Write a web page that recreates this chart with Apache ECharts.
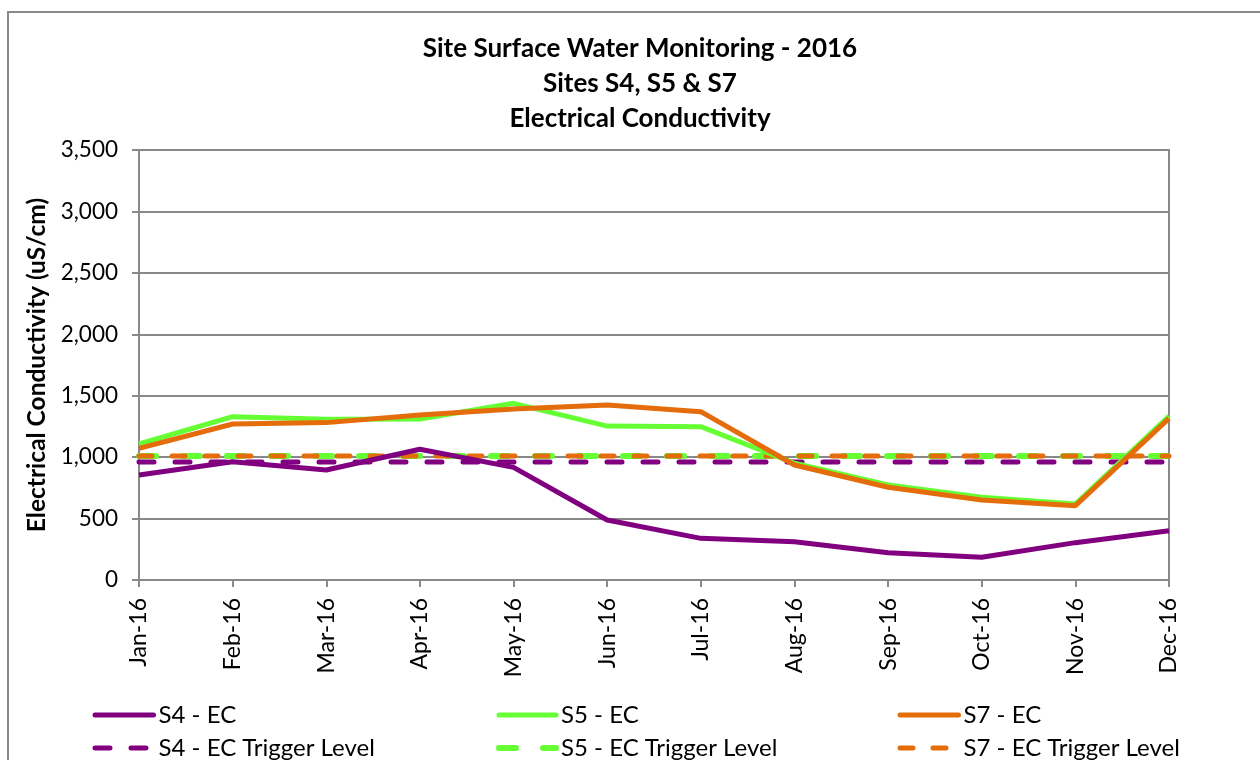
<!DOCTYPE html>
<html>
<head>
<meta charset="utf-8">
<title>Site Surface Water Monitoring - 2016</title>
<script src="https://cdn.jsdelivr.net/npm/echarts@6/dist/echarts.min.js"></script>
<style>
  html, body { margin: 0; padding: 0; background: #ffffff; }
  #chart { width: 1260px; height: 760px; }
</style>
</head>
<body>
<div id="chart"></div>
<script>
// Monthly sampling dates
const months = ['Jan-16', 'Feb-16', 'Mar-16', 'Apr-16', 'May-16', 'Jun-16',
                'Jul-16', 'Aug-16', 'Sep-16', 'Oct-16', 'Nov-16', 'Dec-16'];

// Electrical conductivity readings (uS/cm)
const s4EC = [855, 963, 895, 1064, 917, 488, 339, 312, 222, 185, 304, 401];
const s5EC = [1107, 1329, 1308, 1310, 1438, 1253, 1248, 950, 773, 673, 619, 1335];
const s7EC = [1072, 1270, 1281, 1343, 1392, 1424, 1370, 936, 755, 651, 605, 1316];

// Trigger levels (uS/cm)
const s4Trigger = 960;
const s5Trigger = 1010;
const s7Trigger = 1010;

const yMin = 0, yMax = 3500, yStep = 500;

const titleLines = ['Site Surface Water Monitoring - 2016', 'Sites S4, S5 & S7', 'Electrical Conductivity'];
const yAxisTitle = 'Electrical Conductivity (uS/cm)';

const PURPLE = '#800080';
const GREEN = '#66FF33';
const ORANGE = '#E46C0A';
const GREY = '#898989';
const FONT = 'Lato';

// dash patterns for the trigger-level lines
const DASH_S4 = [15, 21];
const DASH_S5 = [17, 27];
const DASH_S7 = [13, 20];

const flat = v => months.map(() => v);

const chart = echarts.init(document.getElementById('chart'), null, { renderer: 'canvas' });

const legendText = { fontFamily: FONT, fontSize: 24, color: '#000', lineHeight: 22 };
// one legend column per site: solid reading line above, dashed trigger line below
function legendCol(left, iconWidth, solidName, dashName, color, width, dash) {
  return {
    orient: 'vertical', left: left, top: 703, height: 80, itemWidth: iconWidth, itemHeight: 14,
    itemGap: 9, padding: 0, textStyle: legendText, selectedMode: false,
    itemStyle: { opacity: 0 },
    data: [
      { name: solidName, itemStyle: { opacity: 0 },
        lineStyle: { color: color, width: 5, type: 'solid', cap: 'round' } },
      { name: dashName, itemStyle: { opacity: 0 },
        lineStyle: { color: color, width: width, type: dash, cap: 'round' } }
    ]
  };
}

chart.setOption({
  animation: false,
  backgroundColor: '#ffffff',
  title: {
    text: titleLines.join('\n'),
    left: 635, top: 26, textAlign: 'center',
    textStyle: { fontFamily: FONT, fontSize: 26, fontWeight: 'bold', color: '#000', lineHeight: 35 }
  },
  graphic: [{
    type: 'rect', silent: true,
    shape: { x: 8, y: 12, width: 1300, height: 800 },
    style: { fill: 'none', stroke: GREY, lineWidth: 2 }
  }],
  legend: [
    legendCol(92.5, 58.5, 'S4 - EC', 'S4 - EC Trigger Level', PURPLE, 5, DASH_S4),
    legendCol(496, 57, 'S5 - EC', 'S5 - EC Trigger Level', GREEN, 6, DASH_S5),
    legendCol(897.5, 58.5, 'S7 - EC', 'S7 - EC Trigger Level', ORANGE, 5, DASH_S7)
  ],
  grid: { left: 139, right: 91, top: 150, bottom: 180, show: true, borderColor: GREY, borderWidth: 2 },
  xAxis: {
    type: 'category', data: months, boundaryGap: false,
    axisLine: { lineStyle: { color: GREY, width: 2 } },
    axisTick: { show: true, length: 7, alignWithLabel: true, lineStyle: { color: GREY, width: 2 } },
    axisLabel: { rotate: 90, margin: 18, interval: 0, fontFamily: FONT, fontSize: 23, color: '#000' },
    splitLine: { show: false }
  },
  yAxis: {
    type: 'value', min: yMin, max: yMax, interval: yStep,
    name: yAxisTitle, nameLocation: 'middle', nameGap: 82, nameRotate: 90,
    nameTextStyle: { fontFamily: FONT, fontSize: 24.5, fontWeight: 'bold', color: '#000' },
    axisLine: { show: true, lineStyle: { color: GREY, width: 2 } },
    axisTick: { show: true, length: 7, lineStyle: { color: GREY, width: 2 } },
    axisLabel: { margin: 21, fontFamily: FONT, fontSize: 22.5, color: '#000',
                 formatter: v => v.toLocaleString('en-US') },
    splitLine: { show: true, lineStyle: { color: GREY, width: 2 } }
  },
  series: [
    { name: 'S4 - EC', type: 'line', data: s4EC, symbol: 'none', z: 5,
      lineStyle: { color: PURPLE, width: 5 }, itemStyle: { color: PURPLE } },
    { name: 'S5 - EC', type: 'line', data: s5EC, symbol: 'none', z: 3,
      lineStyle: { color: GREEN, width: 5 }, itemStyle: { color: GREEN } },
    { name: 'S7 - EC', type: 'line', data: s7EC, symbol: 'none', z: 4,
      lineStyle: { color: ORANGE, width: 5 }, itemStyle: { color: ORANGE } },
    { name: 'S4 - EC Trigger Level', type: 'line', data: flat(s4Trigger), symbol: 'none', z: 2,
      lineStyle: { color: PURPLE, width: 5, type: DASH_S4, cap: 'round' }, itemStyle: { color: PURPLE } },
    { name: 'S5 - EC Trigger Level', type: 'line', data: flat(s5Trigger), symbol: 'none', z: 1,
      lineStyle: { color: GREEN, width: 6, type: DASH_S5, cap: 'round' }, itemStyle: { color: GREEN } },
    { name: 'S7 - EC Trigger Level', type: 'line', data: flat(s7Trigger), symbol: 'none', z: 2,
      lineStyle: { color: ORANGE, width: 5, type: DASH_S7, cap: 'round' }, itemStyle: { color: ORANGE } }
  ]
});
</script>
</body>
</html>
